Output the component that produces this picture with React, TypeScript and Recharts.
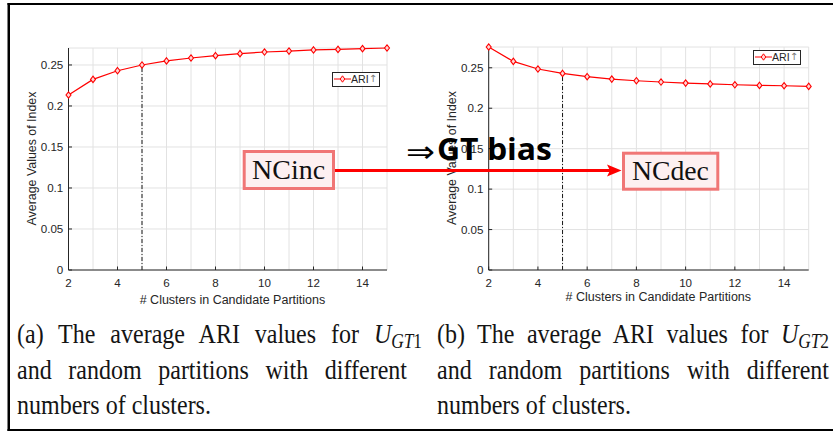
import React from 'react';
import { LineChart, Line, XAxis, YAxis, CartesianGrid, ReferenceLine, Legend } from 'recharts';

// ---- data ----
const clusters = [2, 3, 4, 5, 6, 7, 8, 9, 10, 11, 12, 13, 14, 15];
const ariGT1 = [0.2134, 0.2324, 0.243, 0.25, 0.2549, 0.2585, 0.2613, 0.2638, 0.2658, 0.267, 0.2683, 0.269, 0.2699, 0.2707];
const ariGT2 = [0.2757, 0.2579, 0.2485, 0.243, 0.239, 0.236, 0.234, 0.2324, 0.2311, 0.23, 0.229, 0.2282, 0.2278, 0.227];
const xTickLabels = [2, 4, 6, 8, 10, 12, 14];
const yTicks = [0, 0.05, 0.1, 0.15, 0.2, 0.25];
const yTickLabels = ['0', '0.05', '0.1', '0.15', '0.2', '0.25'];
const markedK = 5;
const seriesName = 'ARI↑';
const xAxisTitle = '# Clusters in Candidate Partitions';
const yAxisTitle = 'Average Values of Index';

const RED = '#ff0000';
const AX = '#262626';
const GRID = '#e2e2e2';
const SANS = '"Liberation Sans", Arial, Helvetica, sans-serif';
const SERIF = '"Liberation Serif", "Times New Roman", serif';

const XTick = (props: any) => {
  const { x, y, payload } = props;
  if (!xTickLabels.includes(payload.value)) return <g />;
  return (
    <g>
      <line x1={x} x2={x} y1={y} y2={y - 3.5} stroke={AX} strokeWidth={1} />
      <text x={x} y={y + 16.5} textAnchor="middle" fontFamily={SANS} fontSize={11.6} fill={AX}>
        {payload.value}
      </text>
    </g>
  );
};

const YTick = (props: any) => {
  const { x, y, payload } = props;
  const idx = yTicks.indexOf(payload.value);
  return (
    <g>
      <line x1={x} x2={x + 3.5} y1={y} y2={y} stroke={AX} strokeWidth={1} />
      <text x={x - 5.2} y={y} dy="0.36em" textAnchor="end" fontFamily={SANS} fontSize={11.6} fill={AX}>
        {idx >= 0 ? yTickLabels[idx] : ''}
      </text>
    </g>
  );
};

const makeXLabel = (dx: number, dy: number) => (props: any) => {
  const vb = props.viewBox || {};
  return (
    <text x={vb.x + vb.width / 2 + dx} y={vb.y + dy} textAnchor="middle" fontFamily={SANS} fontSize={12.5} fill={AX}>
      {xAxisTitle}
    </text>
  );
};

const makeYLabel = (dx: number) => (props: any) => {
  const vb = props.viewBox || {};
  const cx = vb.x + dx;
  const cy = vb.y + vb.height / 2 - 0.5;
  return (
    <text
      x={cx}
      y={cy}
      transform={`rotate(-90 ${cx} ${cy})`}
      textAnchor="middle"
      dominantBaseline="central"
      fontFamily={SANS}
      fontSize={12.4}
      fill={AX}
    >
      {yAxisTitle}
    </text>
  );
};

const renderDiamond = (p: any) => {
  const { cx, cy, index } = p;
  if (cx == null || cy == null) return <g key={`d${index}`} />;
  return (
    <polygon
      key={`d${index}`}
      points={`${cx},${cy - 3.2} ${cx + 2.5},${cy} ${cx},${cy + 3.2} ${cx - 2.5},${cy}`}
      fill="#ffd6d6"
      stroke={RED}
      strokeWidth={1.1}
    />
  );
};

const LegendBox = (props: any) => {
  const item = props.payload && props.payload[0];
  const name: string = (item && item.value) || seriesName;
  const color = (item && item.color) || RED;
  return (
    <div
      style={{
        display: 'inline-flex',
        alignItems: 'center',
        border: `1px solid ${AX}`,
        background: '#fff',
        height: 15,
        boxSizing: 'border-box',
        padding: '0 2px 0 1px',
        fontFamily: SANS,
        fontSize: 10.6,
        color: AX,
        lineHeight: '12px',
      }}
    >
      <svg width={17} height={10} style={{ display: 'block' }}>
        <line x1={0} y1={5} x2={17} y2={5} stroke={color} strokeWidth={1} />
        <polygon points="8.5,1.8 10.8,5 8.5,8.2 6.2,5" fill="#ffd6d6" stroke={color} strokeWidth={1} />
      </svg>
      <span>{name.slice(0, -1)}</span>
      <span style={{ color: '#7a7a7a', fontFamily: '"DejaVu Sans", sans-serif', fontSize: 10 }}>{name.slice(-1)}</span>
    </div>
  );
};

type PanelProps = {
  values: number[];
  width: number;
  height: number;
  margin: any;
  legendPos: { left: number; top: number };
  xLabelDx: number;
  xLabelDy: number;
};

const Panel = ({ values, width, height, margin, legendPos, xLabelDx, xLabelDy }: PanelProps) => {
  const data = clusters.map((k, i) => ({ k, v: values[i] }));
  const markedV = values[clusters.indexOf(markedK)];
  return (
    <LineChart width={width} height={height} data={data} margin={margin}>
      <CartesianGrid stroke={GRID} strokeWidth={1} horizontal vertical />
      <XAxis
        dataKey="k"
        type="number"
        domain={[2, 15]}
        ticks={clusters}
        interval={0}
        tickSize={0}
        tickMargin={0}
        tickLine={false}
        tick={XTick}
        axisLine={{ stroke: AX, strokeWidth: 1 }}
        height={30}
        label={makeXLabel(xLabelDx, xLabelDy)}
      />
      <YAxis
        type="number"
        domain={[0, 'dataMax']}
        ticks={yTicks}
        interval={0}
        tickSize={0}
        tickMargin={0}
        tickLine={false}
        tick={YTick}
        axisLine={{ stroke: AX, strokeWidth: 1 }}
        width={60}
        label={makeYLabel(23.2)}
      />
      <ReferenceLine
        segment={[
          { x: markedK, y: 0 },
          { x: markedK, y: markedV },
        ]}
        stroke="#000"
        strokeWidth={0.9}
        strokeDasharray="4 2 1 2"
      />
      <Legend
        layout="horizontal"
        verticalAlign="middle"
        align="center"
        content={LegendBox}
        wrapperStyle={{ position: 'absolute', left: legendPos.left, top: legendPos.top, width: 'auto', height: 'auto' }}
      />
      <Line
        type="linear"
        dataKey="v"
        name={seriesName}
        stroke={RED}
        strokeWidth={1.2}
        dot={renderDiamond}
        isAnimationActive={false}
      />
    </LineChart>
  );
};

const captionBase: React.CSSProperties = {
  position: 'absolute',
  fontFamily: SERIF,
  fontSize: 24,
  lineHeight: '24px',
  color: '#141414',
  transform: 'scaleY(1.18)',
  transformOrigin: '0 0',
};

const Sub = ({ base, sub, num }: { base: string; sub: string; num: string }) => (
  <span style={{ whiteSpace: 'nowrap' }}>
    <i>{base}</i>
    <span style={{ fontSize: '72%', position: 'relative', top: '0.3em' }}>
      <i>{sub}</i>
      {num}
    </span>
  </span>
);

const Caption = ({ left, widths, label, num }: { left: number; widths: number[]; label: string; num: string }) => (
  <>
    <div style={{ ...captionBase, left, top: 319, width: widths[0], textAlign: 'justify', textAlignLast: 'justify' } as any}>
      {`(${label}) The average ARI values for `}
      <Sub base="U" sub="GT" num={num} />
    </div>
    <div style={{ ...captionBase, left, top: 354.5, width: widths[1], textAlign: 'justify', textAlignLast: 'justify' } as any}>
      and random partitions with different
    </div>
    <div style={{ ...captionBase, left, top: 390, whiteSpace: 'nowrap' }}>numbers of clusters.</div>
  </>
);

export default function App() {
  return (
    <div
      style={{
        position: 'absolute',
        left: 0,
        top: 0,
        width: 833,
        height: 433,
        background: '#fff',
        overflow: 'hidden',
      }}
    >
      <div style={{ position: 'absolute', left: 0, top: 0 }}>
        <Panel
          values={ariGT1}
          width={420}
          height={320}
          margin={{ top: 48, right: 33, bottom: 20, left: 8.5 }}
          legendPos={{ left: 332, top: 70 }}
          xLabelDx={4.7}
          xLabelDy={33.7}
        />
      </div>
      <div style={{ position: 'absolute', left: 420, top: 0 }}>
        <Panel
          values={ariGT2}
          width={413}
          height={320}
          margin={{ top: 47, right: 24.3, bottom: 20, left: 8.7 }}
          legendPos={{ left: 333, top: 48 }}
          xLabelDx={9.6}
          xLabelDy={31}
        />
      </div>

      <Caption left={17} widths={[405, 390]} label="a" num="1" />
      <Caption left={437} widths={[392, 392]} label="b" num="2" />

      <svg
        width={833}
        height={433}
        style={{ position: 'absolute', left: 0, top: 0, pointerEvents: 'none' }}
      >
        {/* frame */}
        <line x1={7.5} y1={4} x2={833} y2={4} stroke="#000" strokeWidth={2} />
        <line x1={8.75} y1={3} x2={8.75} y2={431} stroke="#000" strokeWidth={2.5} />
        <line x1={7.5} y1={430} x2={833} y2={430} stroke="#000" strokeWidth={2} />

        {/* arrow */}
        <line x1={335} y1={170.5} x2={610} y2={170.5} stroke={RED} strokeWidth={3} />
        <polygon points="607,164.5 621.5,170.5 607,176.5 610,170.5" fill={RED} />

        {/* NCinc box */}
        <rect x={244.2} y={151.5} width={89.3} height={37} fill="#fdf0f1" stroke="#f07676" strokeWidth={3} />
        <text x={288.6} y={179.3} textAnchor="middle" fontFamily={SERIF} fontSize={28} fill="#111" textLength={73} lengthAdjust="spacingAndGlyphs">
          NCinc
        </text>

        {/* NCdec box */}
        <rect x={623.5} y={153.2} width={94.3} height={36} fill="#fdf0f1" stroke="#f07676" strokeWidth={3} />
        <text x={670.4} y={180} textAnchor="middle" fontFamily={SERIF} fontSize={28} fill="#111" textLength={77} lengthAdjust="spacingAndGlyphs">
          NCdec
        </text>

        {/* GT bias */}
        <text x={406} y={161.5} fontFamily='"DejaVu Sans", sans-serif' fontSize={30} fill="#000" textLength={29} lengthAdjust="spacingAndGlyphs">
          ⇒
        </text>
        <text x={437} y={160} fontFamily='"Open Sans", "Noto Sans", sans-serif' fontWeight={700} fontSize={31} fill="#000" textLength={115} lengthAdjust="spacingAndGlyphs">
          GT bias
        </text>
      </svg>
    </div>
  );
}
